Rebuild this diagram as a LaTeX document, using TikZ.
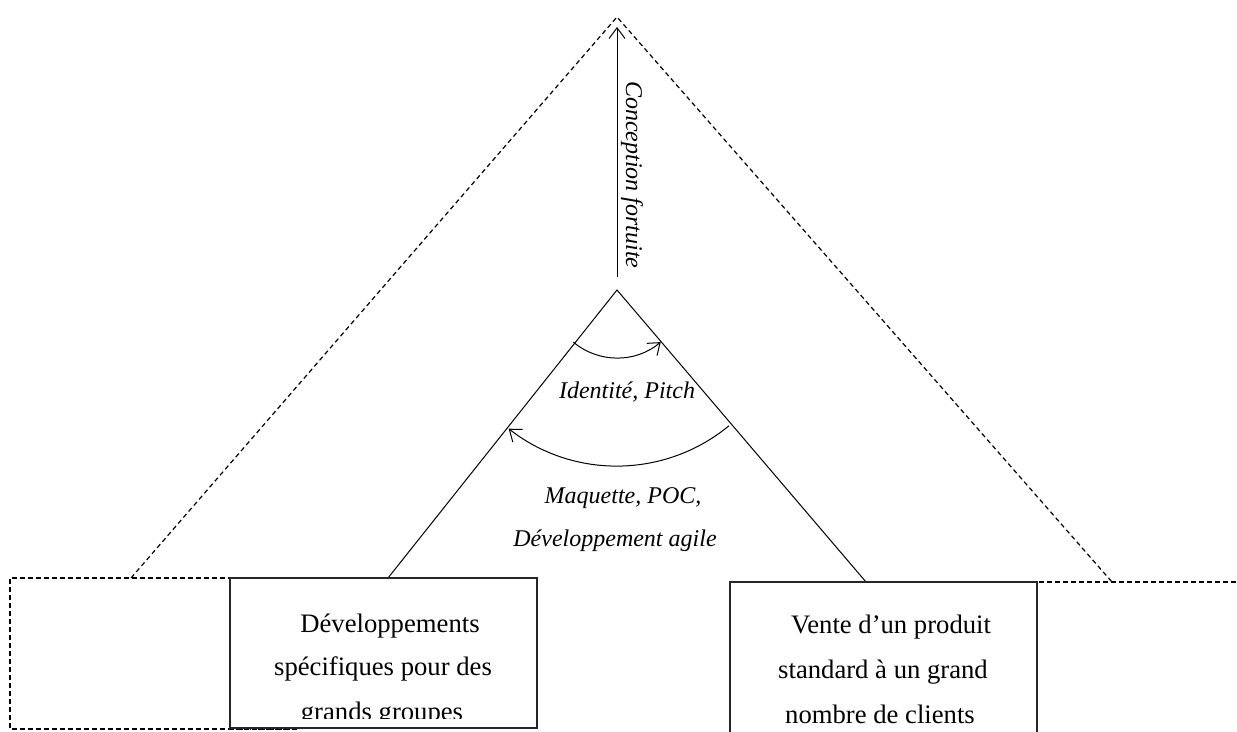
\documentclass[tikz,border=0pt]{standalone}
\usepackage{fontspec}
\setmainfont{Liberation Serif}
\usetikzlibrary{arrows.meta,calc}
\begin{document}
\begin{tikzpicture}[x=0.75pt,y=-0.75pt,
  lbl/.style={font=\fontsize{20}{24}\selectfont, inner sep=0pt, anchor=base},
  ilbl/.style={font=\fontsize{18}{22}\selectfont\itshape, inner sep=0pt, anchor=base},
  dsh/.style={line width=0.9pt, dash pattern=on 3.5pt off 2.5pt},
  dshd/.style={line width=0.7pt, dash pattern=on 1.2pt off 0.9pt},
  thinline/.style={line width=0.75pt},
  boxline/.style={line width=1pt, black!85},
  barb/.style={-{Straight Barb[length=8pt,width=12pt]}, line width=0.75pt}]
\useasboundingbox (0,0) rectangle (1237,731);
% coordinates
\coordinate (oA) at (617,17);
\coordinate (oL) at (131,578);
\coordinate (oR) at (1112,582);
\coordinate (iA) at (617,290);
\coordinate (iL) at (388,578);
\coordinate (iR) at (866,582);
\coordinate (cS) at (617,277);
\coordinate (cE) at (617,27);
% outer dashed triangle
\draw[dsh] (oL) -- (oA) -- (oR);
% dashed rectangles
\draw[dsh] (297,578) -- (10,578) -- (10,729) -- (297,729);
\draw[dsh] (927,582) -- (1237,582);
% inner triangle
\draw[thinline] (iL) -- (iA) -- (iR);
% conception arrow
\draw[barb] (cS) -- (cE);
% arcs
\draw[barb] ($(iA)+(-130:51pt)$) arc[start angle=-130, end angle=-50, radius=51pt];
\draw[barb] ($(iA)+(-50.5:132pt)$) arc[start angle=-50.5, end angle=-128, radius=132pt];
% boxes
\fill[white] (230,578) rectangle (537,728);
\draw[boxline] (230,578) rectangle (537,728);
\draw[dshd] (230,729.5) -- (297,729.5);
\fill[white] (730,582) rectangle (1037,745);
\draw[boxline] (730,745) -- (730,582) -- (1037,582) -- (1037,745);
% texts
\node[ilbl, rotate=-90, anchor=base west] (concep) at (626,81) {Conception fortuite};
\node[ilbl] (ident) at (627,398) {Identité, Pitch};
\node[ilbl] (maq1) at (623,503) {Maquette, POC,};
\node[ilbl] (maq2) at (615,546) {Développement agile};
\begin{scope}
\clip (230,578) rectangle (537,718);
\node[lbl] (l1) at (390,632) {Développements};
\node[lbl] (l2) at (383,675) {spécifiques pour des};
\node[lbl] (l3) at (382,720) {grands groupes};
\end{scope}
\node[lbl] (r1) at (891,633) {Vente d’un produit};
\node[lbl] (r2) at (883,678) {standard à un grand};
\node[lbl] (r3) at (880,723) {nombre de clients};
\end{tikzpicture}
\end{document}
